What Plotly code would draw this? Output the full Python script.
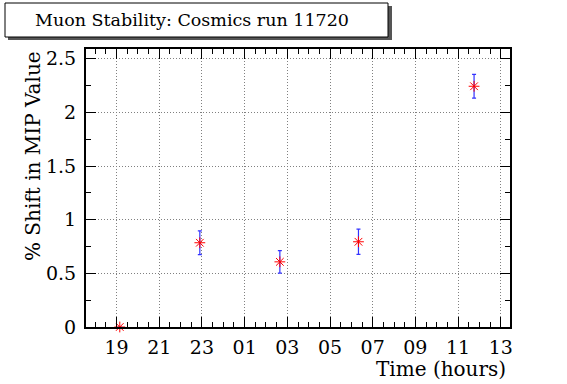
import plotly.graph_objects as go

# ---- data ----
times = ["2008-01-01 19:09", "2008-01-01 22:54", "2008-01-02 02:39",
         "2008-01-02 06:20", "2008-01-02 11:45"]
shift = [0.0, 0.785, 0.607, 0.794, 2.243]
shift_err = [0.0, 0.11, 0.105, 0.118, 0.11]

title_text = "Muon Stability: Cosmics run 11720"
x_title = "Time (hours)"
y_title = "% Shift in MIP Value"

W, H = 567, 384
L, R, T, B = 86, 510, 49, 327  # plot area in pixels
FONT = "DejaVu Serif"

def px(x):
    return (x - L) / (R - L)

def py(y):
    return (B - y) / (B - T)

fig = go.Figure()
fig.add_trace(go.Scatter(
    x=times, y=shift, mode="markers",
    marker=dict(symbol="asterisk-open", size=9, color="red",
                line=dict(color="red", width=1)),
    error_y=dict(type="data", array=shift_err, color="#3333ff",
                 thickness=1.2, width=2),
    showlegend=False, cliponaxis=False,
))

axis_common = dict(
    showline=True, linecolor="black", linewidth=2, mirror="ticks",
    ticks="inside", tickcolor="black", ticklen=10, tickwidth=1,
    showgrid=True, gridcolor="#808080", griddash="1px,2px", gridwidth=1,
    tickfont=dict(family=FONT, size=19, color="black"),
    zeroline=False,
)

fig.update_layout(
    width=W, height=H,
    margin=dict(l=L, r=W - R, t=T, b=H - B),
    paper_bgcolor="white", plot_bgcolor="white",
    font=dict(family=FONT),
    xaxis=dict(
        type="date",
        range=["2008-01-01 17:34", "2008-01-02 13:26"],
        tick0="2008-01-01 19:00", dtick=2 * 3600 * 1000,
        tickformat="%H",
        minor=dict(dtick=1800 * 1000, ticks="inside", ticklen=5,
                   tickcolor="black", showgrid=False),
        ticklabelstandoff=2,
        **axis_common,
    ),
    yaxis=dict(
        range=[0, 2.59], dtick=0.5, tick0=0,
        minor=dict(dtick=0.25, ticks="inside", ticklen=5,
                   tickcolor="black", showgrid=False),
        ticklabelstandoff=4,
        **axis_common,
    ),
    shapes=[
        dict(type="rect", xref="paper", yref="paper",
             x0=px(8), x1=px(392), y0=py(40), y1=py(6),
             fillcolor="#555555", line=dict(width=0), layer="above"),
        dict(type="rect", xref="paper", yref="paper",
             x0=px(5), x1=px(388), y0=py(37), y1=py(3),
             fillcolor="white", line=dict(color="black", width=1), layer="above"),
    ],
    annotations=[
        dict(text=title_text, xref="paper", yref="paper",
             x=px(192), y=py(20), xanchor="center", yanchor="middle",
             showarrow=False, font=dict(family=FONT, size=17.5, color="black")),
        dict(text=x_title, xref="paper", yref="paper",
             x=px(508), y=py(369), xanchor="right", yanchor="middle",
             showarrow=False, font=dict(family=FONT, size=20, color="black")),
        dict(text=y_title, xref="paper", yref="paper",
             x=px(33), y=py(49), xanchor="center", yanchor="top",
             textangle=-90, showarrow=False,
             font=dict(family=FONT, size=20, color="black")),
    ],
)

fig.write_html(
    "out.html",
    config={"displayModeBar": False},
    post_script="document.body.style.margin='0';document.body.style.padding='0';",
)
